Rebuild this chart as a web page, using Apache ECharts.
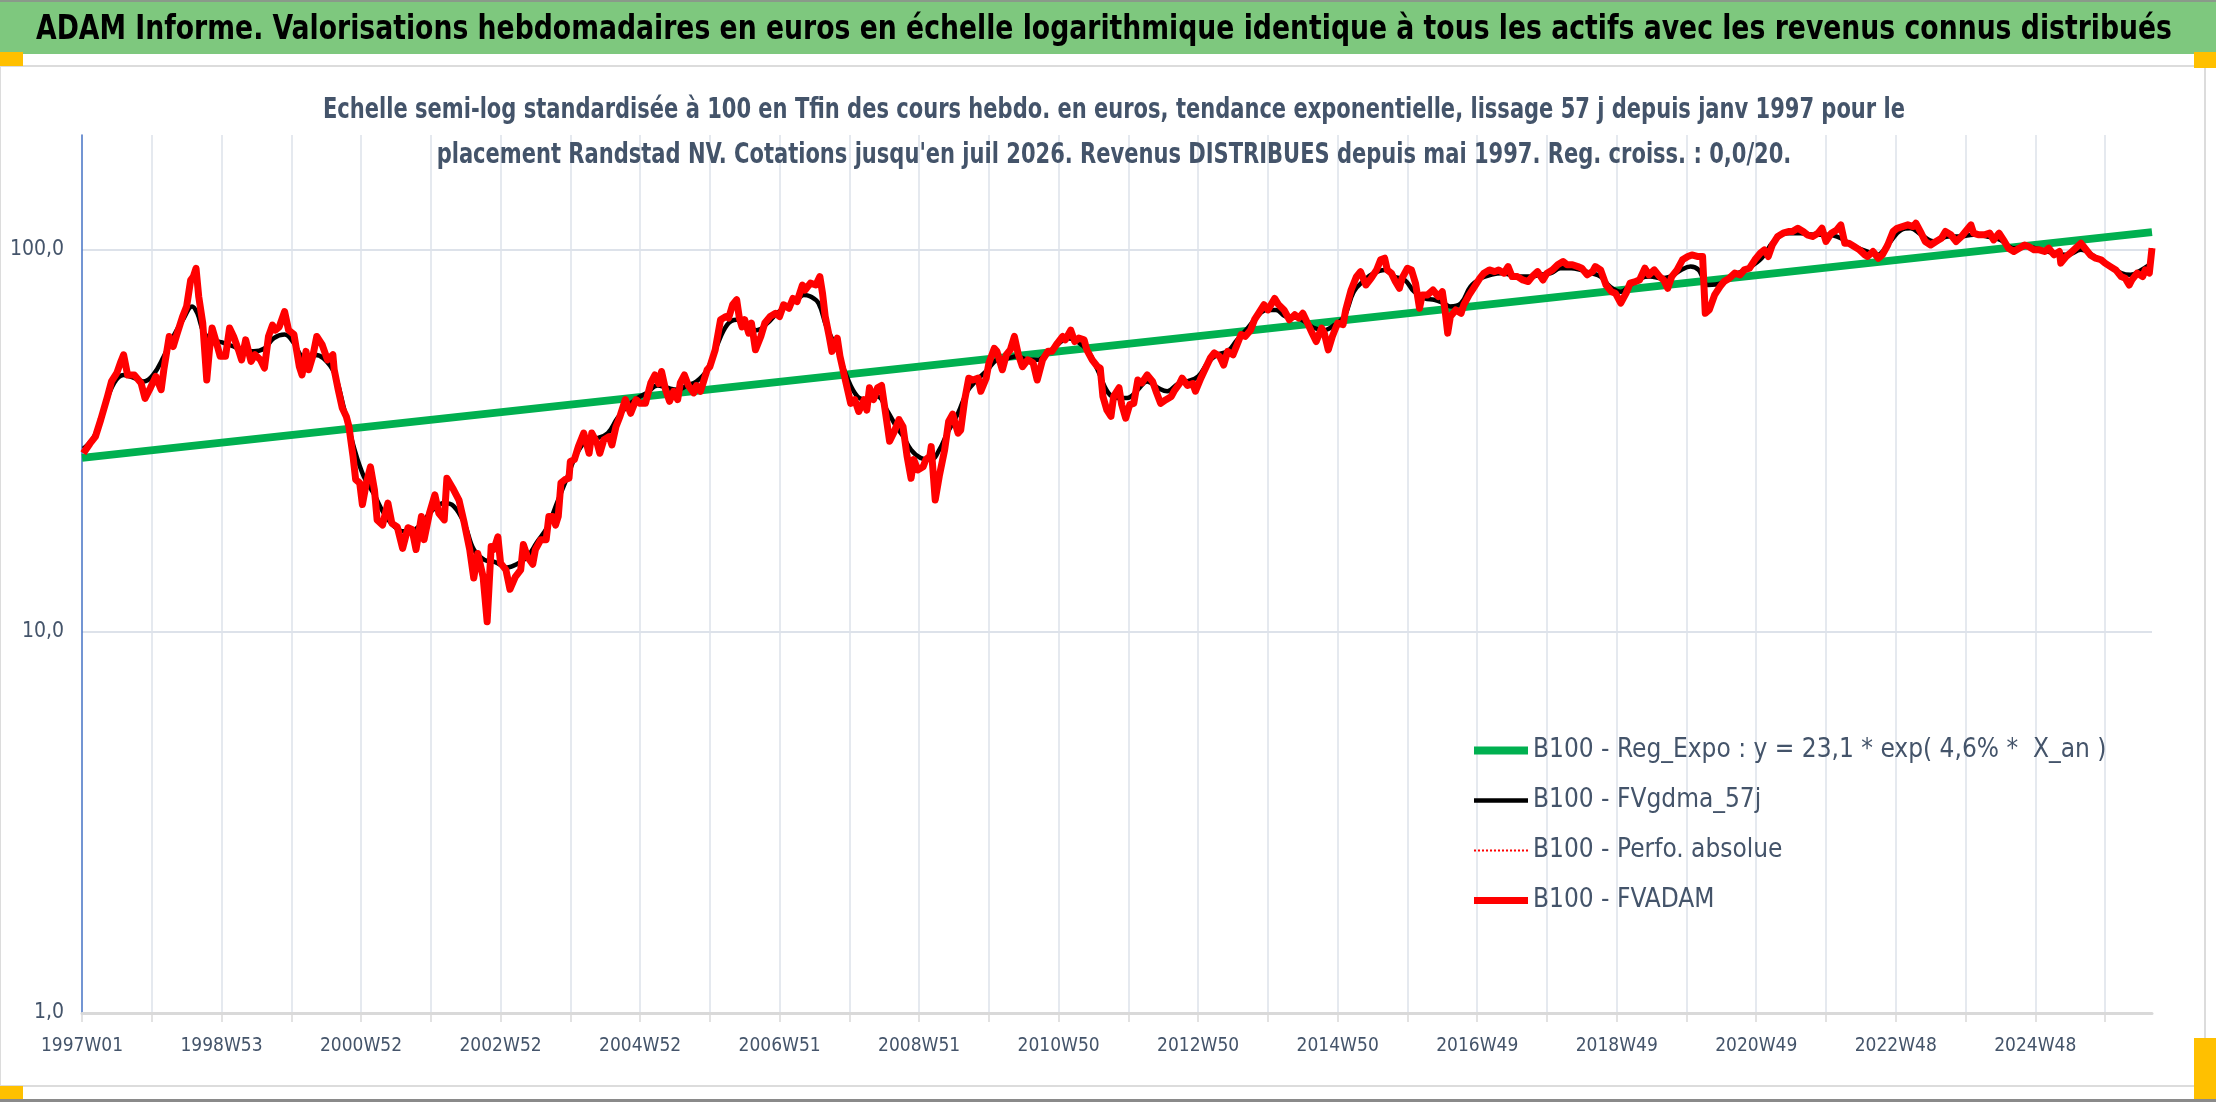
<!DOCTYPE html>
<html><head><meta charset="utf-8">
<script src="https://cdn.jsdelivr.net/npm/echarts@6/dist/echarts.min.js"></script>
<style>html,body{margin:0;padding:0;background:#fff}#c{width:2216px;height:1102px}</style>
</head><body><div id="c"></div>
<script>
const FONT = "'DejaVu Sans Condensed','DejaVu Sans',sans-serif";
const mainTitle = "ADAM Informe. Valorisations hebdomadaires en euros en échelle logarithmique identique à tous les actifs avec les revenus connus distribués";
const subTitleLines = ["Echelle semi-log standardisée à 100 en Tfin des cours hebdo. en euros, tendance exponentielle, lissage 57 j depuis janv 1997 pour le",
  "placement Randstad NV. Cotations jusqu'en juil 2026. Revenus DISTRIBUES depuis mai 1997. Reg. croiss. : 0,0/20."];
const seriesNames = ["B100 - Reg_Expo : y = 23,1 * exp( 4,6% *  X_an )", "B100 - FVgdma_57j", "B100 - Perfo. absolue", "B100 - FVADAM"];
// tick labels every 104 weeks
const xTickLabels = ["1997W01","1998W53","2000W52","2002W52","2004W52","2006W51","2008W51","2010W50","2012W50","2014W50","2016W49","2018W49","2020W49","2022W48","2024W48"];
const yTickLabels = {"1":"1,0","10":"10,0","100":"100,0"};
const lastWeek = 1543;
// [week index, value]
const regExpo = [[0,28.5],[1543,111.3]];
const fvadam = [[1,29.3],[6,31.1],[10,32.4],[14,35.9],[19,41.3],[22,45.2],[26,47.6],[29,51],[31,53.1],[34,47],[39,47],[44,44.8],[47,40.8],[51,43.5],[55,46.6],[59,43],[61,48.5],[65,59.3],[68,55.8],[71,60.5],[75,66.9],[78,71.1],[81,83.3],[83,85.1],[85,89.5],[87,75.5],[90,64.3],[93,45.6],[95,54.7],[97,62.4],[101,55.8],[103,52.6],[107,52.6],[110,62.4],[113,59.3],[117,54.2],[119,51.5],[122,58.1],[126,51],[129,53.1],[133,51.5],[136,49],[139,59.3],[142,63.5],[144,61.6],[147,62.8],[151,68.9],[154,61.6],[158,60],[162,49.4],[164,47],[167,54.2],[169,48.5],[172,52.6],[175,59.3],[179,56.4],[183,51.5],[187,53.1],[188,48.5],[191,43],[194,38.5],[197,36.6],[199,34.4],[202,28.8],[204,25],[207,24.5],[209,21.5],[212,24.5],[215,27],[218,23.5],[220,19.6],[224,19],[228,21.7],[231,19.2],[235,18.8],[239,16.5],[243,18.7],[246,18.5],[249,16.4],[253,20],[255,17.4],[259,20.4],[263,22.8],[266,20.4],[270,19.6],[272,25.2],[277,23.5],[281,22.1],[285,19.2],[289,16.4],[292,13.8],[295,16],[299,13.9],[302,10.6],[305,16.7],
[307,16.4],[310,17.7],[312,15.1],[316,14.5],[319,12.9],[323,13.9],[327,14.5],[329,16.9],[332,15.7],[336,15],[338,16.4],[342,17.4],[346,17.4],[348,20],[351,20],[353,19],[355,20],[357,24.5],[360,25],[363,25.2],[364,27.9],[367,28.2],[370,30.5],[374,33.1],[378,29.3],[380,33.1],[384,31.1],[386,29.3],[389,31.8],[393,32.4],[395,30.8],[398,34.4],[401,36.6],[405,40.5],[409,37.3],[413,40.5],[416,39.6],[420,39.6],[424,44.8],[427,47],[430,44.6],[432,48],[435,43],[438,40.1],[441,42.6],[444,40.5],[446,44.8],[449,47],[452,44.1],[456,42.2],[458,44.1],[461,42.6],[463,44.8],[466,48.5],[468,49.4],[472,54.7],[476,65.6],[480,66.9],[482,66.3],[485,71.8],[488,74],[490,66.3],[492,62.8],[494,65.6],[497,60.5],[499,64.3],[502,54.7],[506,59.3],[509,64.3],[513,66.9],[517,68.2],[520,66.9],[523,71.8],[527,70.3],[530,74.6],[533,73.2],[537,80.9],[539,78.5],[543,81.8],[547,80.9],[550,85.1],[552,76.9],[554,66.9],[557,59.3],[559,54.2],[563,58.7],[565,52.6],[569,45.6],[573,39.6],[576,40.5],[579,37.7],[583,40.5],[585,38],[587,43.5],[590,40.5],[593,43.5],[596,44.1],[599,37.3],[602,31.5],[605,33.1],[609,35.9],
[612,34.4],[615,28.8],[618,25.2],[620,28.2],[623,26.5],[627,27],[629,28.2],[632,28.8],[633,30.5],[636,22.1],[639,25.5],[643,29.9],[646,35.5],[649,37.1],[653,33.1],[655,33.7],[658,40.5],[661,46.1],[664,45.6],[668,46.1],[670,42.6],[674,46.1],[676,50.5],[680,55.2],[682,54.2],[686,48.5],[689,53.1],[692,54.7],[695,59.3],[698,53.1],[701,49.4],[705,51.5],[709,50.5],[712,45.6],[716,51.5],[720,54.2],[723,54.2],[727,56.9],[731,59.3],[733,58.1],[737,61.6],[740,57.5],[743,58.7],[747,58.1],[749,54.7],[753,51.5],[757,49.4],[759,49],[761,41.3],[764,38],[767,36.6],[769,41.3],[773,43.5],[775,39.3],[778,36.2],[781,39.3],[784,39.6],[787,45.6],[790,44.8],[794,47],[798,45.2],[801,42.2],[804,39.6],[808,40.5],[812,41.3],[814,42.6],[818,44.6],[820,46.1],[824,44.1],[828,44.6],[830,42.6],[834,46.1],[838,49.4],[841,52],[844,53.7],[848,52.6],[851,49.9],[854,54.2],[858,53.1],[861,56.4],[864,60],[867,59.3],[871,61.6],[874,65.6],[877,68.2],[881,71.8],[884,69.6],[889,74.6],[892,71.8],[896,69.6],[900,65.6],[904,67.6],[907,66.3],[910,68.2],
[914,63.7],[917,60.5],[920,57.5],[924,62.4],[926,60.5],[929,54.7],[932,59.3],[936,64.3],[940,63.7],[942,69.6],[946,78.5],[950,85.1],[953,87.7],[957,80.9],[961,84.3],[965,88.6],[968,94.2],[971,95.1],[973,88.6],[976,86.9],[979,82.6],[982,79.3],[984,84.3],[988,89.5],[991,88.6],[994,81.8],[997,70.3],[999,76.2],[1003,76.2],[1007,78.5],[1011,75.5],[1014,77.7],[1016,69.6],[1018,60.5],[1020,66.9],[1024,69.6],[1028,68.2],[1030,71.8],[1034,76.2],[1038,80.1],[1042,84.3],[1045,86.9],[1049,88.6],[1053,87.7],[1056,88.6],[1060,86.9],[1063,90.4],[1066,85.1],[1070,85.1],[1074,83.4],[1078,82.6],[1081,85.1],[1085,87.7],[1089,83.4],[1092,86.9],[1096,88.6],[1100,91.4],[1104,93.2],[1107,91.4],[1111,91.4],[1115,90.4],[1118,89.5],[1122,86],[1126,87.7],[1128,90.4],[1132,88.6],[1136,80.9],[1140,77.7],[1143,77],[1147,72.5],[1151,77],[1154,81.8],[1158,82.6],[1161,83.4],[1165,89.5],[1168,86],[1172,88.6],[1176,85.1],[1179,83.4],[1182,79.3],[1185,85.1],[1189,88.6],[1193,94.2],[1197,96.1],[1200,97],[1204,96.1],[1208,96.1],
[1210,68.2],[1213,69.6],[1217,76.2],[1221,80.1],[1224,82.6],[1228,84.3],[1232,86.9],[1236,86],[1239,88.6],[1243,89.5],[1247,94.2],[1251,98],[1254,100],[1257,96.1],[1260,103],[1264,108.4],[1268,110.6],[1272,111.7],[1275,111.7],[1279,113.9],[1283,111.7],[1286,109.5],[1290,108.4],[1294,110.6],[1297,113.9],[1300,105.2],[1304,110.6],[1308,112.8],[1311,116.3],[1314,104.1],[1317,104.1],[1321,102],[1325,100],[1329,97],[1331,96.1],[1335,99],[1339,95.1],[1342,97],[1346,103],[1350,111.7],[1353,113.9],[1357,115.1],[1361,116.3],[1365,115.1],[1367,117.4],[1371,110.6],[1374,105.2],[1378,103],[1382,105.2],[1386,107.3],[1389,111.7],[1393,109.5],[1397,105.2],[1401,108.4],[1404,111.7],[1408,116.3],[1410,110.6],[1414,109.5],[1418,109.5],[1422,110.6],[1425,106.2],[1429,110.6],[1433,105.2],[1436,101],[1440,99],[1444,101],[1448,103],[1451,102],[1455,100],[1459,100],[1463,99],[1466,101],[1470,97],[1474,99],[1475,92.3],[1479,96.1],[1482,98],[1486,101],[1490,104.1],[1493,101],[1497,97],[1501,95.1],[1505,94.2],[1508,92.3],[1512,90.4],[1516,88.6],[1520,85.1],[1523,84.3],[1526,80.9],[1528,83.4],[1532,86.9],[1536,85.1],[1538,88.6],[1541,86.9],[1543,101]];
const perfoAbsolue = fvadam;
const fvgdma = [[1,30.1],[9,32.4],[16,38.1],[24,44.8],[31,47],[39,46.1],[46,45.2],[53,47],[61,52.6],[68,59.3],[76,66.3],[82,71.1],[86,68.2],[91,60.5],[98,58.1],[106,57],[113,55.8],[121,54.2],[128,54.2],[136,55.2],[143,58.7],[151,60],[158,57],[165,52.6],[173,53.1],[180,52],[188,47.6],[195,38.8],[203,30.1],[210,25.5],[218,22.8],[225,20.4],[233,18.8],[240,18.3],[248,18.5],[255,19.6],[262,20.9],[270,21.7],[277,21.3],[285,19.2],[292,16.4],[300,15.4],[308,15.2],[317,14.7],[324,15],[332,15.7],[339,17.1],[347,18.8],[354,21.7],[362,25.5],[369,29.3],[377,31.8],[384,32.1],[392,33.1],[399,36.2],[406,38.8],[414,40.9],[421,42.2],[429,44.1],[436,43.5],[444,43],[451,44.1],[458,45.2],[466,48.5],[473,55.8],[481,63.7],[488,65.6],[496,62.8],[503,61.6],[511,64.3],[518,68.2],[525,71.1],[533,74],[538,76.2],[543,75.5],[549,72.5],[555,62.8],[563,54.7],[570,46.6],[578,41.3],[585,40.5],[593,41.3],[600,38],[607,34.4],[612,32.5],[618,29.9],[625,28.5],[633,28.2],[639,29.9],[645,33.1],[653,37.3],[660,42.6],[667,45.6],[675,48.5],[682,51.5],[690,52],[697,52.6],[705,51.5],[712,51.5],[720,53.7],[727,56.4],[735,58.7],[742,57.5],[750,54.2],[757,48.5],[765,42.2],[772,40.9],[779,40.9],[787,43],[794,45.2],[802,43.5],[809,42.6],[817,44.6],[824,45.2],[832,46.6],[839,50.5],[846,53.1],[854,54.2],[861,58.1],[869,62.4],[876,66.9],[883,69.6],[890,69.6],[897,66.9],[906,66.3],[913,64.3],[918,62.5],[926,61.6],[934,63.7],[941,66.9],[948,77.7],[956,83.4],[963,86.9],[971,88.6],[978,85.1],[986,83.4],[993,77.7],[1001,74.6],[1008,74],[1015,72.5],[1020,71.1],[1028,72.5],[1035,80.1],[1043,84.3],[1050,86],[1058,86.9],[1065,86],[1073,85.1],[1080,85.1],[1087,86],[1095,86.9],[1102,89.5],[1110,89.5],[1117,88.6],[1125,86.9],[1132,85.1],[1139,80.1],[1147,77.7],[1154,80.9],[1162,84.3],[1169,85.1],[1177,84.3],[1184,85.1],[1192,88.6],[1199,90.4],[1205,88.6],[1212,80.9],[1222,81.8],[1232,86],[1242,89.5],[1252,95.1],[1261,105.2],[1271,110.6],[1281,110.6],[1291,109.5],[1301,109.5],[1311,107.3],[1321,102],[1331,99],[1338,97],[1346,103],[1356,112.8],[1363,113.9],[1371,109.5],[1381,105.2],[1391,108.4],[1400,108.4],[1410,109.5],[1420,108.4],[1430,106.2],[1440,101],[1450,102],[1460,100],[1470,98],[1480,97],[1490,100],[1500,96.1],[1510,91.4],[1520,86.9],[1527,86],[1535,88.6],[1541,91.4]];

const TXT = '#44546A';
const GRID = '#DDE2EA';
const TITLE_FONT = "bold 33px " + FONT;
const SUB_FONT = "bold 28px " + FONT;
function measure(text, font){ const c = document.createElement('canvas').getContext('2d'); c.font = font; return c.measureText(text).width; }
const titleScale = 2136 / measure(mainTitle, TITLE_FONT);
const subScale = 1582 / measure(subTitleLines[0], SUB_FONT);

const chart = echarts.init(document.getElementById('c'), null, {renderer:'canvas'});
chart.setOption({
  backgroundColor:'#ffffff',
  animation:false,
  graphic:[
    {type:'rect', z:-10, shape:{x:0,y:0,width:2216,height:54}, style:{fill:'#7ec87e'}},
    {type:'rect', z:-10, shape:{x:0,y:0,width:2216,height:2}, style:{fill:'#8a9a8a'}},
    {type:'rect', z:-10, shape:{x:0,y:1099,width:2216,height:3}, style:{fill:'#8a8a8a'}},
    {type:'rect', z:-10, shape:{x:0,y:66,width:2205,height:1020}, style:{fill:'none', stroke:'#dcdcdc', lineWidth:2}},
    {type:'rect', z:-9, shape:{x:0,y:52,width:23,height:14}, style:{fill:'#ffc000'}},
    {type:'rect', z:-9, shape:{x:0,y:1086,width:23,height:13}, style:{fill:'#ffc000'}},
    {type:'rect', z:-9, shape:{x:2194,y:52,width:22,height:16}, style:{fill:'#ffc000'}},
    {type:'rect', z:-9, shape:{x:2194,y:1038,width:22,height:61}, style:{fill:'#ffc000'}},
    {type:'text', z:5, x:36, y:30, scaleX:titleScale, style:{text:mainTitle, x:0, y:0, textVerticalAlign:'middle', textAlign:'left', fill:'#000', font:TITLE_FONT}},
    {type:'text', z:5, x:1114, y:111, scaleX:subScale, style:{text:subTitleLines[0], x:0, y:0, textVerticalAlign:'middle', textAlign:'center', fill:TXT, font:SUB_FONT}},
    {type:'text', z:5, x:1114, y:156, scaleX:subScale, style:{text:subTitleLines[1], x:0, y:0, textVerticalAlign:'middle', textAlign:'center', fill:TXT, font:SUB_FONT}}
  ],
  grid:{left:82, right:64, top:135, bottom:89, containLabel:false},
  legend:{
    orient:'vertical', left:1465, top:731, itemWidth:54, itemHeight:14, itemGap:21,
    data:seriesNames,
    itemStyle:{opacity:0},
    lineStyle:{width:'inherit'},
    textStyle:{fontFamily:FONT, fontSize:26, color:TXT, lineHeight:29}
  },
  xAxis:{
    type:'value', min:0, max:lastWeek, interval:52,
    axisLine:{show:true, lineStyle:{color:'#D9D9D9', width:3}},
    axisTick:{show:true, length:9, lineStyle:{color:'#D9D9D9', width:1.5}},
    axisLabel:{margin:24, fontFamily:FONT, fontSize:19, color:TXT, showMaxLabel:false,
      formatter:function(v){ return (v % 104 === 0 && xTickLabels[v/104]) ? xTickLabels[v/104] : ''; }},
    splitLine:{show:true, showMinLine:false, showMaxLine:false, lineStyle:{color:GRID, width:1.5}}
  },
  yAxis:{
    type:'log', logBase:10, min:1, max:200,
    axisLine:{show:true, lineStyle:{color:'#4472C4', width:1.5}},
    axisTick:{show:false},
    axisLabel:{margin:18, fontFamily:FONT, fontSize:21, color:TXT, showMaxLabel:false,
      formatter:function(v){ const k = String(Math.round(v)); return (Math.abs(v-Math.round(v))<1e-6 && yTickLabels[k]) ? yTickLabels[k] : ''; }},
    splitLine:{show:true, showMinLine:false, showMaxLine:false, lineStyle:{color:GRID, width:2}}
  },
  series:[
    {name:seriesNames[0], type:'line', data:regExpo, symbol:'none', lineStyle:{color:'#00B050', width:8}, itemStyle:{color:'#00B050'}},
    {name:seriesNames[1], type:'line', data:fvgdma, symbol:'none', smooth:0.4, lineStyle:{color:'#000000', width:4.5}, itemStyle:{color:'#000000'}},
    {name:seriesNames[2], type:'line', data:perfoAbsolue, symbol:'none', lineStyle:{color:'#FF0000', width:2, type:'dotted'}, itemStyle:{color:'#FF0000'}},
    {name:seriesNames[3], type:'line', data:fvadam, symbol:'none', lineStyle:{color:'#FF0000', width:7, join:'round'}, itemStyle:{color:'#FF0000'}}
  ]
});
</script></body></html>
